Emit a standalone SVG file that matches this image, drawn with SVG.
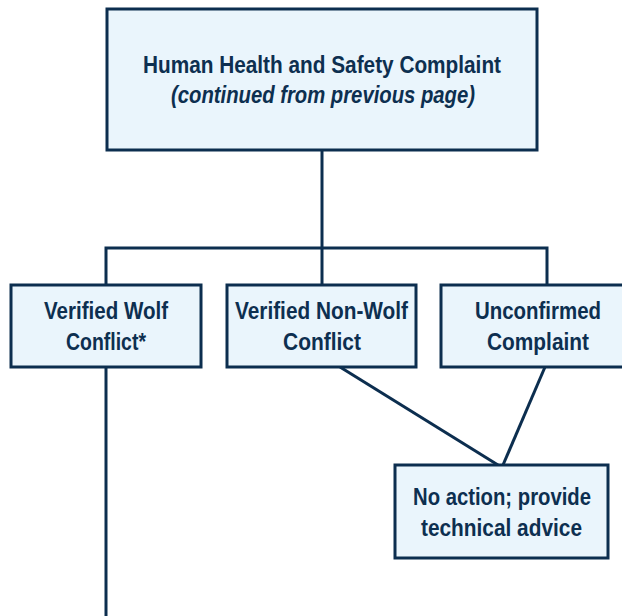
<svg xmlns="http://www.w3.org/2000/svg" width="622" height="616" viewBox="0 0 622 616">
<style>
.box{fill:#eaf5fc;stroke:#0c2e4f;stroke-width:3}
.ln{fill:none;stroke:#0c2e4f;stroke-width:3}
text{font-family:"Liberation Sans",Arial,sans-serif;font-weight:bold;font-size:24px;fill:#0d2f50;text-anchor:middle}
.it{font-style:italic}
.sm{font-size:23px}
</style>
<rect width="622" height="616" fill="#ffffff"/>
<g id="connectors">
<line class="ln" x1="322" y1="150" x2="322" y2="285"/>
<polyline class="ln" points="106,285 106,248 547,248 547,285"/>
<line class="ln" x1="106" y1="367" x2="106" y2="616"/>
<line class="ln" x1="340" y1="367" x2="498" y2="465"/>
<line class="ln" x1="545" y1="367" x2="503" y2="465"/>
</g>
<g id="node-top">
<rect class="box" x="107" y="9" width="430" height="141"/>
<text x="322" y="73" textLength="358" lengthAdjust="spacingAndGlyphs">Human Health and Safety Complaint</text>
<text class="it" x="323" y="103" textLength="304" lengthAdjust="spacingAndGlyphs">(continued from previous page)</text>
</g>
<g id="node-wolf">
<rect class="box" x="11" y="285" width="190" height="82"/>
<text x="106" y="319" textLength="124" lengthAdjust="spacingAndGlyphs">Verified Wolf</text>
<text x="106" y="350" textLength="80" lengthAdjust="spacingAndGlyphs">Conflict*</text>
</g>
<g id="node-nonwolf">
<rect class="box" x="227" y="285" width="189" height="82"/>
<text class="sm" x="321.5" y="319" textLength="173" lengthAdjust="spacingAndGlyphs">Verified Non-Wolf</text>
<text x="322" y="350" textLength="78" lengthAdjust="spacingAndGlyphs">Conflict</text>
</g>
<g id="node-unconfirmed">
<rect class="box" x="441" y="285" width="194" height="82"/>
<text x="538" y="319" textLength="126" lengthAdjust="spacingAndGlyphs">Unconfirmed</text>
<text x="538" y="350" textLength="102" lengthAdjust="spacingAndGlyphs">Complaint</text>
</g>
<g id="node-noaction">
<rect class="box" x="395" y="465" width="213" height="93"/>
<text class="sm" x="502" y="505" textLength="178" lengthAdjust="spacingAndGlyphs">No action; provide</text>
<text class="sm" x="501.5" y="536" textLength="161" lengthAdjust="spacingAndGlyphs">technical advice</text>
</g>
</svg>
